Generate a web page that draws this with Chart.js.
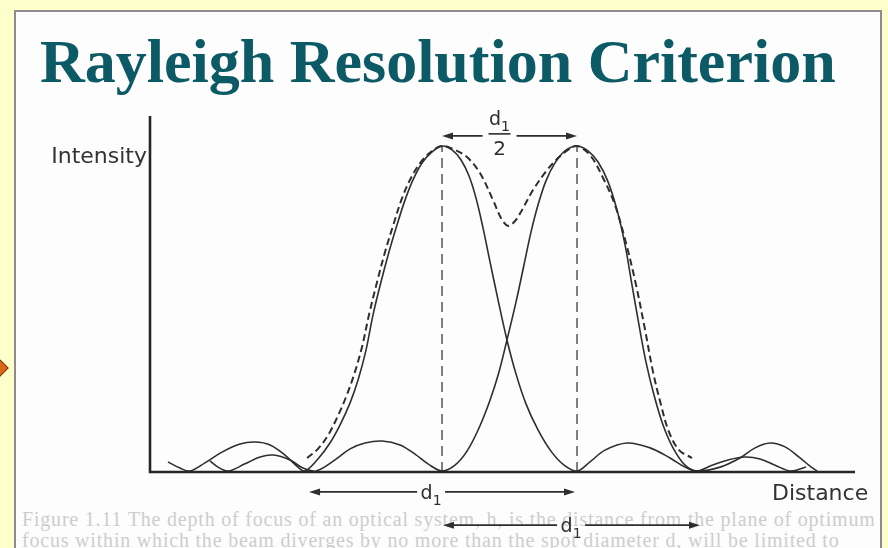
<!DOCTYPE html>
<html lang="en">
<head>
<meta charset="UTF-8">
<title>Rayleigh Resolution Criterion</title>
<script src="https://cdn.jsdelivr.net/npm/chart.js"></script>
<style>
  html, body { margin: 0; height: 100%; }
  body {
    position: relative;
    width: 888px;
    height: 548px;
    overflow: hidden;
    background: #ffffcc;
  }
  #panel {
    position: absolute;
    left: 14px; top: 10px;
    width: 864px; height: 560px;
    background: #fdfdfd;
    border: 2px solid #8c8c8c;
  }
  #marker {
    position: absolute;
    left: -13px; top: 359px;
    width: 16px; height: 16px;
    background: #dd6a12;
    border: 1px solid #7a3a08;
    transform: rotate(45deg);
  }
  #title {
    position: absolute;
    left: 40px; top: 30px;
    font: bold 62px "Liberation Serif", serif;
    line-height: 62px;
    color: #0b5a66;
    white-space: nowrap;
  }
  .caption {
    position: absolute;
    left: 22px;
    font: 20px "Liberation Serif", serif;
    letter-spacing: 0.8px;
    color: #cdcdcd;
    white-space: nowrap;
  }
  canvas { position: absolute; left: 0; top: 0; }
</style>
</head>
<body>
<div id="panel"></div>
<div id="marker"></div>
<div id="title">Rayleigh Resolution Criterion</div>
<div class="caption" style="top: 508px;">Figure 1.11 The depth of focus of an optical system, h, is the distance from the plane of optimum</div>
<div class="caption" style="top: 529px;">focus within which the beam diverges by no more than the spot diameter d, will be limited to</div>
<canvas id="rayleighChart" width="888" height="548"></canvas>
<script>
// distance in units of d1/2 (left peak at 0, right peak at 1), intensity relative to peak
const leftX = [-2.030, -1.941, -1.867, -1.756, -1.630, -1.496, -1.385, -1.274, -1.163, -1.067,
  -1.015, -0.919, -0.830, -0.756, -0.681, -0.622, -0.563, -0.511, -0.452, -0.393, -0.341, -0.274,
  -0.215, -0.148, -0.074,
  0, 0.074, 0.141, 0.200, 0.252, 0.304, 0.356, 0.415, 0.481, 0.548, 0.622, 0.711, 0.807, 0.904,
  1.0, 1.096, 1.207, 1.370, 1.541, 1.689, 1.800, 1.889, 2.000, 2.119, 2.244, 2.356, 2.467, 2.578, 2.652, 2.696];
const leftY = [0.031, 0.012, 0.003, 0.028, 0.061, 0.086, 0.092, 0.083, 0.052, 0.015,
  0.003, 0.040, 0.089, 0.144, 0.212, 0.282, 0.374, 0.482, 0.583, 0.675, 0.748, 0.834,
  0.896, 0.948, 0.982,
  1.0, 0.988, 0.957, 0.908, 0.840, 0.748, 0.644, 0.528, 0.405, 0.301, 0.209, 0.129, 0.064, 0.021,
  0.003, 0.031, 0.067, 0.089, 0.074, 0.043, 0.015, 0.003, 0.021, 0.037, 0.046, 0.040, 0.021, 0.003, 0.009, 0.015];

const rightX = [-1.719, -1.659, -1.585, -1.459, -1.348, -1.252, -1.126, -1.030,
  -0.933, -0.793, -0.681, -0.570, -0.444, -0.311, -0.200, -0.104,
  0, 0.096, 0.185, 0.274, 0.356, 0.422, 0.481, 0.548, 0.607, 0.659, 0.711, 0.770, 0.837, 0.911,
  1.0, 1.081, 1.156, 1.230, 1.296, 1.356, 1.407, 1.459, 1.511, 1.570, 1.637, 1.711, 1.800,
  1.889, 2.059, 2.207, 2.319, 2.430, 2.541, 2.652, 2.726, 2.778];
const rightY = [0.034, 0.015, 0.003, 0.025, 0.046, 0.052, 0.037, 0.012,
  0.003, 0.037, 0.071, 0.089, 0.095, 0.083, 0.055, 0.025,
  0.003, 0.021, 0.064, 0.135, 0.221, 0.307, 0.405, 0.521, 0.635, 0.736, 0.819, 0.893, 0.948, 0.985,
  1.0, 0.985, 0.951, 0.890, 0.804, 0.696, 0.574, 0.451, 0.337, 0.236, 0.144, 0.074, 0.021,
  0.003, 0.015, 0.043, 0.074, 0.089, 0.077, 0.043, 0.018, 0.003];

// combined intensity (dashed)
const sumX = [-1.000, -0.919, -0.844, -0.778, -0.711, -0.652, -0.593, -0.541, -0.481, -0.422,
  -0.363, -0.296, -0.230, -0.156, -0.081,
  0, 0.096, 0.185, 0.281, 0.378, 0.437, 0.489, 0.541, 0.593, 0.674, 0.778, 0.859, 0.933,
  1.0, 1.096, 1.193, 1.281, 1.363, 1.437, 1.504, 1.563, 1.622, 1.681, 1.756, 1.852];
const sumY = [0.043, 0.071, 0.113, 0.166, 0.230, 0.298, 0.383, 0.482, 0.583, 0.675,
  0.755, 0.840, 0.902, 0.951, 0.982,
  1.0, 0.988, 0.966, 0.917, 0.834, 0.779, 0.755, 0.770, 0.804, 0.865, 0.926, 0.963, 0.988,
  1.0, 0.972, 0.902, 0.819, 0.702, 0.574, 0.436, 0.307, 0.206, 0.123, 0.067, 0.043];

const peakPositions = [0, 1];
const peakIntensity = 1;

// separation arrows: [from, to, level, label centre]
const halfArrow = [0, 1, 1.031, 0.426];
const d1Arrows = [
  [-0.985, 0.985, -0.061, -0.081],
  [0.007, 1.911, -0.163, 0.956]
];

const ink = '#2e2e2e';

function pts(xs, ys) {
  return xs.map((v, i) => ({ x: v, y: ys[i] }));
}

function arrowHead(ctx, x, y, dir) {
  ctx.beginPath();
  ctx.moveTo(x, y);
  ctx.lineTo(x - dir * 11, y - 3.5);
  ctx.lineTo(x - dir * 11, y + 3.5);
  ctx.closePath();
  ctx.fill();
}

function arrow(ctx, x1, x2, y, gapL, gapR) {
  ctx.beginPath();
  ctx.moveTo(x1 + 4, y); ctx.lineTo(gapL, y);
  ctx.moveTo(gapR, y); ctx.lineTo(x2 - 4, y);
  ctx.stroke();
  arrowHead(ctx, x1, y, -1);
  arrowHead(ctx, x2, y, 1);
}

function subLabel(ctx, cx, baseline) {
  ctx.textAlign = 'left';
  ctx.font = '19px "DejaVu Sans"';
  const w = ctx.measureText('d').width;
  ctx.font = '14px "DejaVu Sans"';
  const w1 = ctx.measureText('1').width;
  const left = cx - (w + w1) / 2;
  ctx.font = '19px "DejaVu Sans"';
  ctx.fillText('d', left, baseline);
  ctx.font = '14px "DejaVu Sans"';
  ctx.fillText('1', left + w, baseline + 6);
}

const overlay = {
  id: 'overlay',
  afterDraw(chart) {
    const { ctx, chartArea: a, scales: { x, y } } = chart;
    ctx.save();
    // axes
    ctx.strokeStyle = '#262626';
    ctx.lineWidth = 2.6;
    ctx.beginPath();
    ctx.moveTo(a.left, a.top);
    ctx.lineTo(a.left, a.bottom);
    ctx.lineTo(a.right, a.bottom);
    ctx.stroke();

    ctx.fillStyle = '#333';
    ctx.font = '22px "DejaVu Sans"';
    ctx.textBaseline = 'alphabetic';
    ctx.textAlign = 'right';
    ctx.fillText('Intensity', a.left - 3, y.getPixelForValue(peakIntensity) + 17);
    ctx.textAlign = 'left';
    ctx.fillText('Distance', a.right - 83, a.bottom + 28);

    // arrows
    ctx.strokeStyle = ink;
    ctx.fillStyle = ink;
    ctx.lineWidth = 1.6;
    const [h0, h1, hy, hc] = halfArrow;
    const hp = y.getPixelForValue(hy), hcx = x.getPixelForValue(hc);
    arrow(ctx, x.getPixelForValue(h0), x.getPixelForValue(h1), hp, hcx - 17, hcx + 17);
    ctx.beginPath();
    ctx.moveTo(hcx - 11, hp - 2); ctx.lineTo(hcx + 11, hp - 2);
    ctx.stroke();
    subLabel(ctx, hcx, hp - 11);
    ctx.font = '20px "DejaVu Sans"';
    ctx.textAlign = 'center';
    ctx.fillText('2', hcx, hp + 19);

    d1Arrows.forEach(([f, t, lv, c]) => {
      const py = y.getPixelForValue(lv), cx = x.getPixelForValue(c);
      arrow(ctx, x.getPixelForValue(f), x.getPixelForValue(t), py, cx - 14, cx + 14);
      subLabel(ctx, cx, py + 7);
    });
    ctx.restore();
  }
};

const curveStyle = {
  showLine: true,
  pointRadius: 0,
  borderColor: ink,
  borderWidth: 1.6,
  tension: 0.35,
  clip: false
};

const ctx = document.getElementById('rayleighChart').getContext('2d');
new Chart(ctx, {
  type: 'scatter',
  data: {
    datasets: [
      { ...curveStyle, data: pts(leftX, leftY) },
      { ...curveStyle, data: pts(rightX, rightY) },
      { ...curveStyle, data: pts(sumX, sumY), borderWidth: 2, borderDash: [7, 4] },
      ...peakPositions.map(p => ({
        showLine: true,
        pointRadius: 0,
        borderColor: '#555',
        borderWidth: 1.5,
        borderDash: [10, 6],
        data: [{ x: p, y: 0 }, { x: p, y: peakIntensity }]
      }))
    ]
  },
  options: {
    responsive: false,
    animation: false,
    devicePixelRatio: 1,
    layout: { padding: { left: 150, right: 33, top: 116, bottom: 76 } },
    scales: {
      x: { type: 'linear', min: -2.163, max: 3.059, display: false },
      y: { type: 'linear', min: 0, max: 1.092, display: false }
    },
    plugins: {
      legend: { display: false },
      tooltip: { enabled: false }
    }
  },
  plugins: [overlay]
});
</script>
</body>
</html>
